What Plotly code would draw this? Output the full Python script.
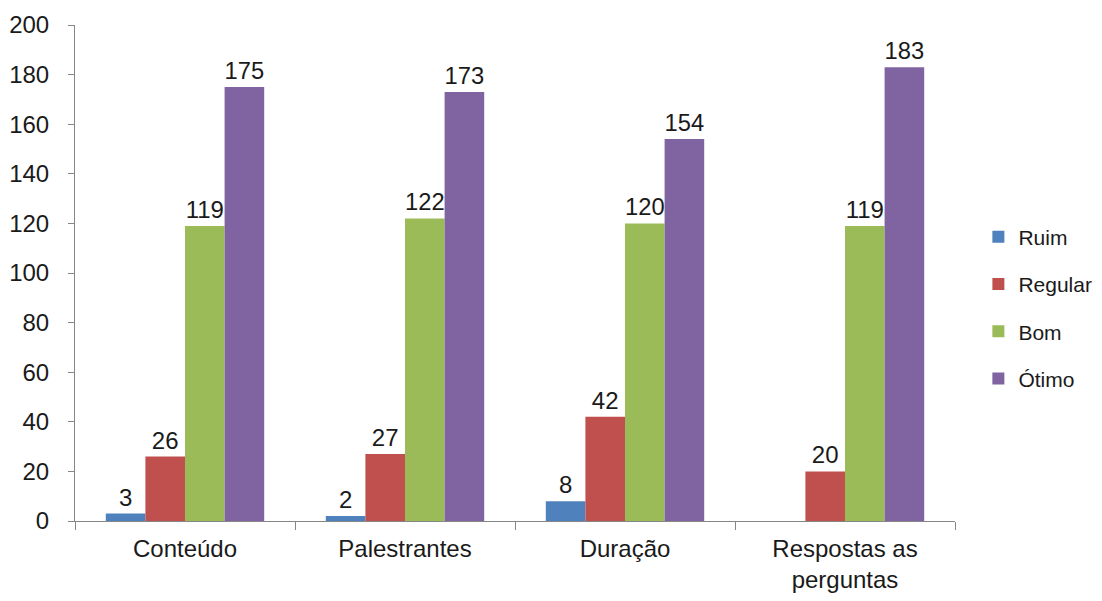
import plotly.graph_objects as go

# Dados da avaliação
categorias = ["Conteúdo", "Palestrantes", "Duração", "Respostas as<br>perguntas"]
ruim = [3, 2, 8, None]
regular = [26, 27, 42, 20]
bom = [119, 122, 120, 119]
otimo = [175, 173, 154, 183]

series = [
    ("Ruim", ruim, "#4F81BD"),
    ("Regular", regular, "#C0504D"),
    ("Bom", bom, "#9BBB59"),
    ("Ótimo", otimo, "#8064A2"),
]

fonte = "Liberation Sans"
eixo_cor = "#868686"

fig = go.Figure()

for nome, valores, cor in series:
    fig.add_trace(go.Bar(
        name=nome,
        x=categorias,
        y=valores,
        marker=dict(color=cor, line=dict(width=0)),
        text=[str(v) if v is not None else "" for v in valores],
        textposition="outside",
        textfont=dict(family=fonte, size=24, color="#1a1a1a"),
        cliponaxis=False,
        legendgroup=nome,
    ))

# a página tem margem de 8px no body: a figura é 8px menor
fig.update_layout(
    barmode="group",
    bargap=0.28,
    bargroupgap=0,
    width=1094,
    height=593,
    plot_bgcolor="white",
    paper_bgcolor="white",
    font=dict(family=fonte, size=24, color="#1a1a1a"),
    margin=dict(l=67, r=147, t=17, b=80, autoexpand=False),
    legend=dict(
        xref="container",
        yref="container",
        x=0.887,
        y=0.494,
        xanchor="left",
        yanchor="middle",
        tracegroupgap=17,
        font=dict(family=fonte, size=21),
        itemwidth=30,
    ),
)

fig.update_yaxes(
    range=[0, 200],
    dtick=20,
    showgrid=False,
    showline=True,
    linecolor=eixo_cor,
    linewidth=1,
    ticks="outside",
    ticklen=6,
    tickcolor=eixo_cor,
    ticklabelstandoff=14,
    zeroline=False,
    automargin=False,
)

fig.update_xaxes(
    showgrid=False,
    showline=True,
    linecolor=eixo_cor,
    linewidth=1,
    ticks="outside",
    tickson="boundaries",
    ticklen=8,
    tickcolor=eixo_cor,
    ticklabelstandoff=6,
    automargin=False,
)

fig.write_html("out.html")
